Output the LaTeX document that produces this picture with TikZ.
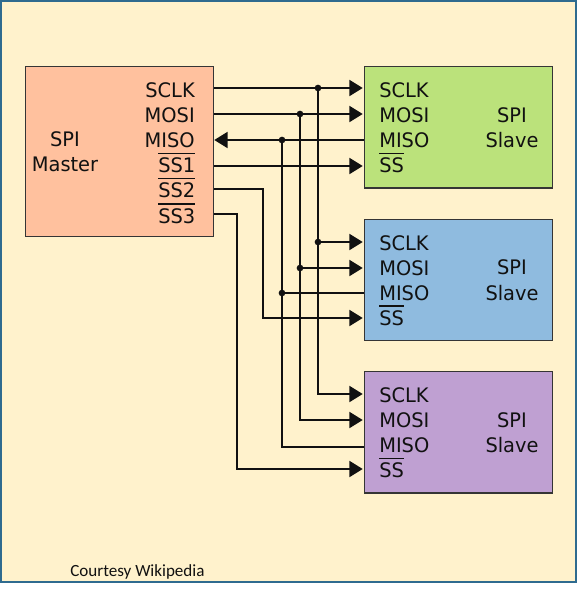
\documentclass[tikz,border=0pt]{standalone}
\usepackage{fontspec}
\setmainfont[FakeStretch=0.97]{DejaVu Sans}
\newfontfamily\notefont{Carlito}
\usetikzlibrary{arrows.meta,calc}
\definecolor{spipage}{HTML}{FFF2CC}
\definecolor{spiframe}{HTML}{2F6B8F}
\definecolor{spiink}{HTML}{111111}
\definecolor{spimaster}{HTML}{FFC19E}
\definecolor{spigreen}{HTML}{BBE27B}
\definecolor{spiblue}{HTML}{8FBBDF}
\definecolor{spipurple}{HTML}{BFA0D2}
\newlength{\ovlwd}
\newcommand{\ovl}[1]{\settowidth{\ovlwd}{#1}\rlap{\rule[13.7pt]{\ovlwd}{1pt}}#1}

\begin{document}
\begin{tikzpicture}[
  x=0.75pt, y=-0.75pt,
  font=\fontsize{15}{16}\selectfont,
  block/.style={draw=spiink!85, line width=1.1pt, anchor=north west, inner sep=0pt},
  pinlabel/.style={anchor=base west, inner sep=0pt, text=spiink},
  pinright/.style={anchor=base east, inner sep=0pt, text=spiink},
  title/.style={anchor=base, inner sep=0pt, text=spiink},
  wire/.style={draw=spiink, line width=1.4pt},
  arrowwire/.style={wire, -{Triangle[length=10pt,width=12pt,sep=0.8pt]}},
  backwire/.style={wire, -{Triangle[length=10pt,width=12pt]}},
  junction/.style={circle, fill=spiink, minimum size=5pt, inner sep=0pt},
]

% ---- page ----
\useasboundingbox (0,0) rectangle (580,593);
\node[draw=spiframe, fill=spipage, line width=1.5pt, anchor=north west, inner sep=0pt,
  minimum width=431.25pt, minimum height=435.75pt] (page) at (-0.5,0) {};

% ---- blocks ----
\node[block, fill=spimaster, minimum width=141pt, minimum height=127.5pt] (master) at (24.8,66) {};
\node[block, fill=spigreen,  minimum width=141pt, minimum height=91pt] (slaveA) at (363.8,66) {};
\node[block, fill=spiblue,   minimum width=141pt, minimum height=91pt] (slaveB) at (363.8,218.5) {};
\node[block, fill=spipurple, minimum width=141pt, minimum height=91pt] (slaveC) at (363.8,371) {};

% ---- master labels ----
\node[pinright] (mSCLK) at (195,97.5)  {SCLK};
\node[pinright] (mMOSI) at (195,122.5) {MOSI};
\node[pinright] (mMISO) at (195,147.5) {MISO};
\node[pinright] (mSSa)  at (195.5,172.5) {\ovl{SS1}};
\node[pinright] (mSSb)  at (195.5,197.5) {\ovl{SS2}};
\node[pinright] (mSSc)  at (195.5,223) {\ovl{SS3}};
\node[title] (mA) at (65,146.5) {SPI};
\node[title] (mB) at (65,171.5) {Master};

% ---- slave labels ----
\foreach \n/\y in {A/0,B/152.5,C/305}{
  \node[pinlabel] (s\n SCLK) at (379,97.5+\y)  {SCLK};
  \node[pinlabel] (s\n MOSI) at (379,122.5+\y) {MOSI};
  \node[pinlabel] (s\n MISO) at (379,147.5+\y) {MISO};
  \node[pinlabel] (s\n SS)   at (379,172.5+\y) {\ovl{SS}};
  \node[title] (s\n a) at (512,122+\y) {SPI};
  \node[title] (s\n b) at (512,147.5+\y) {Slave};
}

% ---- wire coordinates ----
\coordinate (jClk)  at (318,88);
\coordinate (jMosi) at (300,114);
\coordinate (jMiso) at (282,140);

% ---- master to first slave ----
\draw[arrowwire] (master.east |- jClk) -- (slaveA.west |- jClk);
\draw[arrowwire] (master.east |- jMosi) -- (slaveA.west |- jMosi);
\draw[backwire] (slaveA.west |- jMiso) -- (master.east |- jMiso);
\draw[arrowwire] (master.east |- 0,166) -- (slaveA.west |- 0,166);

% ---- buses ----
\draw[arrowwire] (jClk) |- (slaveB.west |- 0,242);
\draw[arrowwire] (jMosi) |- (slaveB.west |- 0,268);
\draw[wire] (jMiso) |- (slaveB.west |- 0,293);
\draw[arrowwire] (jClk) |- (slaveC.west |- 0,394);
\draw[arrowwire] (jMosi) |- (slaveC.west |- 0,420);
\draw[wire] (jMiso) |- (slaveC.west |- 0,447);

% ---- slave selects ----
\draw[arrowwire] (master.east |- 0,189) -- (263,189) |- (slaveB.west |- 0,318);
\draw[arrowwire] (master.east |- 0,214) -- (237,214) |- (slaveC.west |- 0,469);

% ---- junctions ----
\node[junction] (dClk)  at (jClk) {};
\node[junction] (dMosi) at (jMosi) {};
\node[junction] (dMiso) at (jMiso) {};
\node[junction] (dClkB)  at (318,242) {};
\node[junction] (dMosiB) at (300,268) {};
\node[junction] (dMisoB) at (282,293) {};

\node[anchor=base west, inner sep=0pt, font=\notefont\fontsize{12.8}{14}\selectfont, text=spiink] (credit) at (70,576.5) {Courtesy Wikipedia};

\end{tikzpicture}
\end{document}
